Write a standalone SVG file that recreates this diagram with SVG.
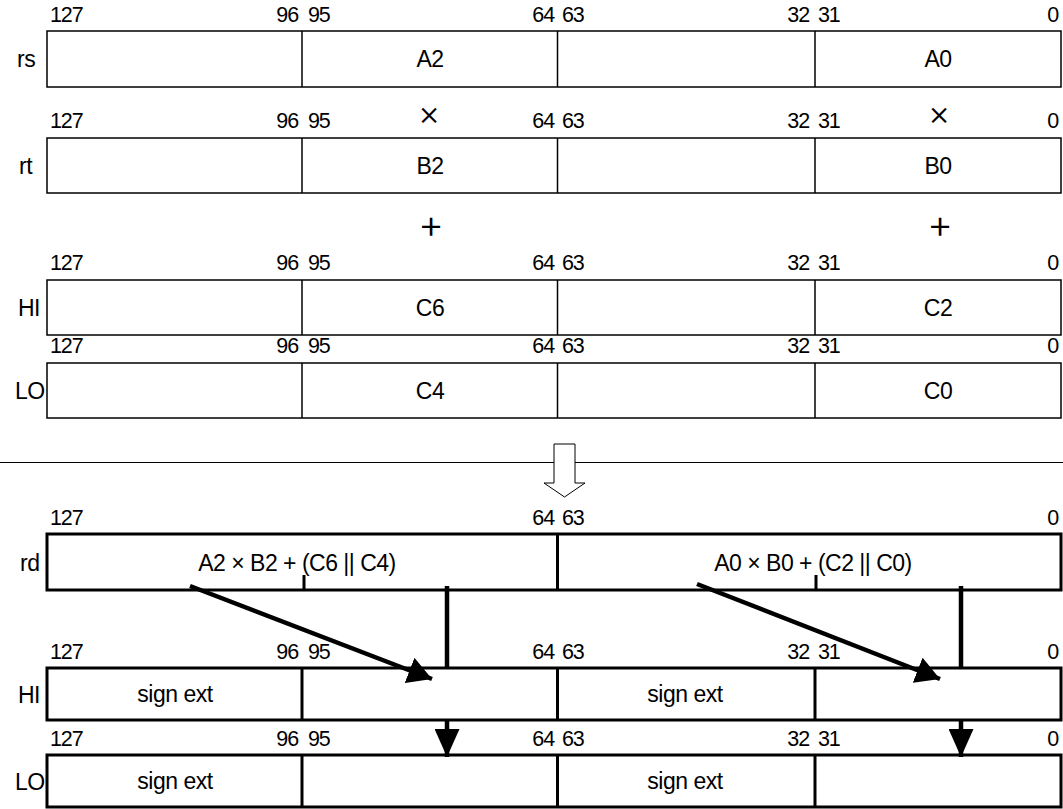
<svg xmlns="http://www.w3.org/2000/svg" width="1063" height="809" viewBox="0 0 1063 809">
<style>
text{font-family:"Liberation Sans",Arial,sans-serif;fill:#000}
.b{font-size:21.5px;letter-spacing:-1.1px}
.c{font-size:23px;letter-spacing:-0.5px}
.e{text-anchor:end}
.m{text-anchor:middle}
.thin{fill:#fff;stroke:#000;stroke-width:1.5}
.tl{stroke:#000;stroke-width:1.5}
.thick{fill:#fff;stroke:#000;stroke-width:3}
.tk{stroke:#000;stroke-width:3}
.op{font-family:Inter,"Liberation Sans",sans-serif;font-weight:300;text-anchor:middle}
.conn{stroke:#000;stroke-width:4.5;fill:none}
</style>
<defs>
<marker id="ah" markerWidth="24" markerHeight="27" refX="24" refY="13.5" orient="auto" markerUnits="userSpaceOnUse">
<path d="M0,0 L24,13.5 L0,27 Z" fill="#000"/>
</marker>
<marker id="av" markerWidth="28" markerHeight="25" refX="28" refY="12.5" orient="auto" markerUnits="userSpaceOnUse">
<path d="M0,0 L28,12.5 L0,25 Z" fill="#000"/>
</marker>
</defs>
<rect width="1063" height="809" fill="#fff"/>

<g id="rs">
<g class="b"><text x="50" y="22">127</text><text class="e" x="298" y="22">96</text><text x="308" y="22">95</text>
<text class="e" x="554" y="22">64</text><text x="562" y="22">63</text>
<text class="e" x="809" y="22">32</text><text x="818" y="22">31</text><text class="e" x="1058" y="22">0</text></g>
<text class="c" x="17" y="67">rs</text>
<rect class="thin" x="47" y="31" width="1014" height="56"/>
<line class="tl" x1="302" y1="31" x2="302" y2="87"/><line class="tl" x1="557.5" y1="31" x2="557.5" y2="87"/><line class="tl" x1="815" y1="31" x2="815" y2="87"/>
<text class="c m" x="430" y="67">A2</text><text class="c m" x="938" y="67">A0</text>
</g>

<g id="ops1">
<text class="op" x="429" y="125" font-size="34">×</text><text class="op" x="939" y="125" font-size="34">×</text>
</g>

<g id="rt">
<g class="b"><text x="50" y="128">127</text><text class="e" x="298" y="128">96</text><text x="308" y="128">95</text>
<text class="e" x="554" y="128">64</text><text x="562" y="128">63</text>
<text class="e" x="809" y="128">32</text><text x="818" y="128">31</text><text class="e" x="1058" y="128">0</text></g>
<text class="c" x="19" y="174">rt</text>
<rect class="thin" x="47" y="138" width="1014" height="55"/>
<line class="tl" x1="302" y1="138" x2="302" y2="193"/><line class="tl" x1="557.5" y1="138" x2="557.5" y2="193"/><line class="tl" x1="815" y1="138" x2="815" y2="193"/>
<text class="c m" x="430" y="174">B2</text><text class="c m" x="938" y="174">B0</text>
</g>

<g id="ops2">
<text class="op" x="431" y="238" font-size="40">+</text><text class="op" x="940" y="238" font-size="40">+</text>
</g>

<g id="hi1">
<g class="b"><text x="50" y="270">127</text><text class="e" x="298" y="270">96</text><text x="308" y="270">95</text>
<text class="e" x="554" y="270">64</text><text x="562" y="270">63</text>
<text class="e" x="809" y="270">32</text><text x="818" y="270">31</text><text class="e" x="1058" y="270">0</text></g>
<text class="c" x="18" y="316">HI</text>
<rect class="thin" x="47" y="280" width="1014" height="55"/>
<line class="tl" x1="302" y1="280" x2="302" y2="335"/><line class="tl" x1="557.5" y1="280" x2="557.5" y2="335"/><line class="tl" x1="815" y1="280" x2="815" y2="335"/>
<text class="c m" x="430" y="316">C6</text><text class="c m" x="938" y="316">C2</text>
</g>

<g id="lo1">
<g class="b"><text x="50" y="353">127</text><text class="e" x="298" y="353">96</text><text x="308" y="353">95</text>
<text class="e" x="554" y="353">64</text><text x="562" y="353">63</text>
<text class="e" x="809" y="353">32</text><text x="818" y="353">31</text><text class="e" x="1058" y="353">0</text></g>
<text class="c" x="15" y="399">LO</text>
<rect class="thin" x="47" y="363" width="1014" height="55"/>
<line class="tl" x1="302" y1="363" x2="302" y2="418"/><line class="tl" x1="557.5" y1="363" x2="557.5" y2="418"/><line class="tl" x1="815" y1="363" x2="815" y2="418"/>
<text class="c m" x="430" y="399">C4</text><text class="c m" x="938" y="399">C0</text>
</g>

<g id="separator">
<line x1="0" y1="462.5" x2="1063" y2="462.5" stroke="#000" stroke-width="1"/>
<polygon points="554,444 575,444 575,483 585,483 564.5,497 544,483 554,483" fill="#fff" stroke="#000" stroke-width="1"/>
</g>

<g id="rd">
<g class="b"><text x="50" y="525">127</text>
<text class="e" x="554" y="525">64</text><text x="562" y="525">63</text>
<text class="e" x="1058" y="525">0</text></g>
<text class="c" x="20" y="571">rd</text>
<rect class="thick" x="47" y="534" width="1014" height="56"/>
<line class="tk" x1="557.5" y1="534" x2="557.5" y2="590"/>
<line class="tk" x1="304" y1="575" x2="304" y2="590"/><line class="tk" x1="816" y1="575" x2="816" y2="590"/>
<text class="c m" x="297" y="571">A2 × B2 + (C6 || C4)</text>
<text class="c m" x="813" y="571">A0 × B0 + (C2 || C0)</text>
</g>

<g id="hi2">
<g class="b"><text x="50" y="659">127</text><text class="e" x="298" y="659">96</text><text x="308" y="659">95</text>
<text class="e" x="554" y="659">64</text><text x="562" y="659">63</text>
<text class="e" x="809" y="659">32</text><text x="818" y="659">31</text><text class="e" x="1058" y="659">0</text></g>
<text class="c" x="18" y="703">HI</text>
<rect class="thick" x="47" y="668" width="1014" height="52"/>
<line class="tk" x1="302" y1="668" x2="302" y2="720"/><line class="tk" x1="557.5" y1="668" x2="557.5" y2="720"/><line class="tk" x1="815" y1="668" x2="815" y2="720"/>
<text class="c m" x="175" y="702">sign ext</text><text class="c m" x="685" y="702">sign ext</text>
</g>

<g id="lo2">
<g class="b"><text x="50" y="746">127</text><text class="e" x="298" y="746">96</text><text x="308" y="746">95</text>
<text class="e" x="554" y="746">64</text><text x="562" y="746">63</text>
<text class="e" x="809" y="746">32</text><text x="818" y="746">31</text><text class="e" x="1058" y="746">0</text></g>
<text class="c" x="15" y="790">LO</text>
<rect class="thick" x="47" y="755" width="1014" height="52"/>
<line class="tk" x1="302" y1="755" x2="302" y2="807"/><line class="tk" x1="557.5" y1="755" x2="557.5" y2="807"/><line class="tk" x1="815" y1="755" x2="815" y2="807"/>
<text class="c m" x="175" y="789">sign ext</text><text class="c m" x="685" y="789">sign ext</text>
</g>

<g id="connectors">
<line class="conn" x1="190" y1="586" x2="432" y2="679" marker-end="url(#ah)"/>
<line class="conn" x1="697" y1="584" x2="940" y2="679" marker-end="url(#ah)"/>
<line class="conn" x1="447" y1="586" x2="447" y2="668"/>
<line class="conn" x1="447" y1="720" x2="447" y2="757" marker-end="url(#av)"/>
<line class="conn" x1="961" y1="586" x2="961" y2="668"/>
<line class="conn" x1="961" y1="720" x2="961" y2="757" marker-end="url(#av)"/>
</g>
</svg>
